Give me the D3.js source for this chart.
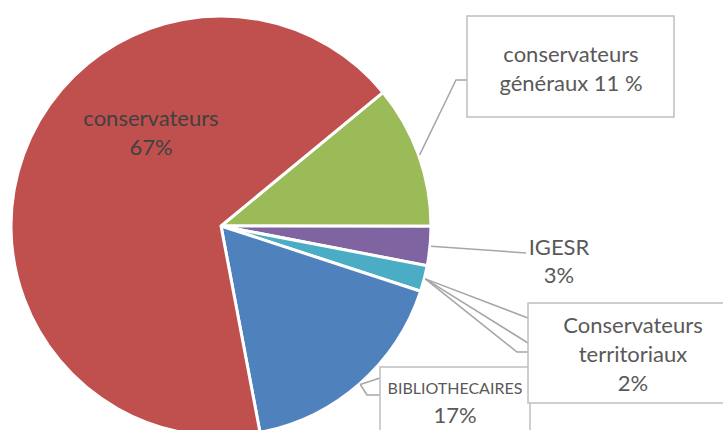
<!DOCTYPE html>
<html>
<head>
<meta charset="utf-8">
<script src="https://cdn.jsdelivr.net/npm/d3@7"></script>
<style>
  body { margin: 0; background: #fff; }
  svg text { font-family: Lato, "Open Sans", sans-serif; }
</style>
</head>
<body>
<div id="chart"></div>
<script>
// donnees du graphique
const categories = ["conservateurs généraux", "IGESR", "Conservateurs territoriaux", "BIBLIOTHECAIRES", "conservateurs"];
const values = [11, 3, 2, 17, 67];
const labelLines = [
  ["conservateurs", "généraux 11 %"],
  ["IGESR", "3%"],
  ["Conservateurs", "territoriaux", "2%"],
  ["BIBLIOTHECAIRES", "17%"],
  ["conservateurs", "67%"]
];
const colors = ["#9BBB59", "#8064A2", "#4BACC6", "#4F81BD", "#C0504D"];

const width = 723, height = 430;
const cx = 221, cy = 226, radius = 210;
const offset = 50.5 * Math.PI / 180;

const svg = d3.select("#chart").append("svg")
  .attr("width", width)
  .attr("height", height);

const pie = d3.pie().sort(null)
  .startAngle(offset)
  .endAngle(offset + 2 * Math.PI);
const arcs = pie(values);
const arc = d3.arc().innerRadius(0).outerRadius(radius);

const g = svg.append("g").attr("transform", `translate(${cx},${cy})`);

g.selectAll("path.slice")
  .data(arcs)
  .enter().append("path")
  .attr("class", "slice")
  .attr("d", arc)
  .attr("fill", (d, i) => colors[i])
  .attr("stroke", "#fff")
  .attr("stroke-width", 3)
  .attr("stroke-linejoin", "round");

// point sur le bord d'une part
function edge(i, r) {
  const a = (arcs[i].startAngle + arcs[i].endAngle) / 2;
  return [cx + (r || radius) * Math.sin(a), cy - (r || radius) * Math.cos(a)];
}

const lineColor = "#a6a6a6", boxColor = "#bfbfbf", textColor = "#595959";

// lignes de rappel
const leaders = svg.append("g").attr("fill", "none").attr("stroke", lineColor).attr("stroke-width", 1.5);

let p = edge(0, radius + 1);
leaders.append("polyline").attr("points", [p, [456, 80], [467, 80]].join(" "));

p = edge(1, radius + 1);
leaders.append("polyline").attr("points", [p, [526, 253]].join(" "));

p = edge(2, radius + 1);
leaders.append("polyline").attr("points", [p, [528, 318]].join(" "));
leaders.append("polyline").attr("points", [p, [528, 343]].join(" "));
leaders.append("polyline").attr("points", [p, [517, 352], [528, 352]].join(" "));

p = edge(3, radius + 1);
leaders.append("polyline").attr("points", [p, [380, 378]].join(" "));
leaders.append("polyline").attr("points", [p, [367, 395], [380, 395]].join(" "));

// boites
const boxes = svg.append("g").attr("fill", "#fff").attr("stroke", boxColor).attr("stroke-width", 1.5);
boxes.append("rect").attr("x", 467).attr("y", 16).attr("width", 207).attr("height", 101);
boxes.append("rect").attr("x", 380).attr("y", 367).attr("width", 150).attr("height", 80);
boxes.append("rect").attr("x", 528).attr("y", 303).attr("width", 210).attr("height", 100);

// textes
function label(lines, x, y0, step, sizes, color) {
  const t = svg.append("text")
    .attr("text-anchor", "middle")
    .attr("fill", color);
  lines.forEach((s, k) => {
    t.append("tspan")
      .attr("x", x)
      .attr("y", y0 + k * step)
      .attr("font-size", sizes[k] || sizes[0])
      .text(s);
  });
}

label(labelLines[4], 151, 126, 29, [22], "#404040");
label(labelLines[0], 571, 62, 29, [22], textColor);
label(labelLines[1], 559, 255, 28, [22], textColor);
label(labelLines[2], 633, 333, 29, [22], textColor);
label(labelLines[3], 455, 394, 29, [16, 22], textColor);
</script>
</body>
</html>
